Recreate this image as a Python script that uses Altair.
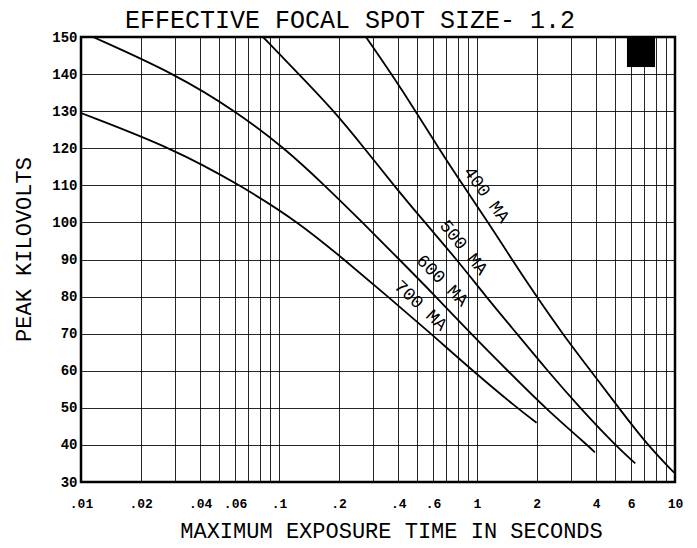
import altair as alt
import pandas as pd

# ---- curve data (exposure time in s, peak kV) ----
t400 = [0.275, 0.37, 0.49, 0.64, 0.85, 1.14, 1.5, 2.0, 2.7, 3.75, 5.2, 7.25, 9.9]
kv400 = [150, 140, 130, 120, 110, 100, 90, 80, 70, 60, 50, 40, 32.5]
t500 = [0.083, 0.126, 0.19, 0.27, 0.38, 0.545, 0.79, 1.11, 1.59, 2.27, 3.31, 4.98, 6.3]
kv500 = [150, 140, 130, 120, 110, 100, 90, 80, 70, 60, 50, 40, 35]
t600 = [0.0115, 0.03, 0.0605, 0.107, 0.17, 0.264, 0.405, 0.62, 0.93, 1.43, 2.2, 3.6, 3.94]
kv600 = [150, 140, 130, 120, 110, 100, 90, 80, 70, 60, 50, 40, 38]
t700 = [0.01, 0.029, 0.064, 0.126, 0.213, 0.355, 0.585, 0.95, 1.59, 2.0]
kv700 = [129.5, 120, 110, 100, 90, 80, 70, 60, 50, 46]

# ---- curve labels ----
label_text = ["400 MA", "500 MA", "600 MA", "700 MA"]
label_t = [1.04, 0.80, 0.628, 0.49]
label_kv = [106.3, 92.0, 82.9, 76.1]

# ---- black marker square ----
square_t = [5.72, 7.93]
square_kv = [141.9, 150]

# ---- axes ----
grid_x = [0.01, 0.02, 0.03, 0.04, 0.05, 0.06, 0.07, 0.08, 0.09,
          0.1, 0.2, 0.3, 0.4, 0.5, 0.6, 0.7, 0.8, 0.9,
          1, 2, 3, 4, 5, 6, 7, 8, 9, 10]
tick_vals = [0.01, 0.02, 0.04, 0.06, 0.1, 0.2, 0.4, 0.6, 1, 2, 4, 6, 10]
tick_text = [".01", ".02", ".04", ".06", ".1", ".2", ".4", ".6", "1", "2", "4", "6", "10"]
y_ticks = [30, 40, 50, 60, 70, 80, 90, 100, 110, 120, 130, 140, 150]

rows = []
for name, ts, ks in [("400", t400, kv400), ("500", t500, kv500),
                     ("600", t600, kv600), ("700", t700, kv700)]:
    for t, k in zip(ts, ks):
        rows.append({"series": name, "t": t, "kv": k})
curves = pd.DataFrame(rows)

expr = "''"
for v, s in reversed(list(zip(tick_vals, tick_text))):
    expr = f"round(datum.value*1000)=={int(round(v*1000))} ? '{s}' : ({expr})"

FONT = "Liberation Mono"
xscale = alt.Scale(type="log", domain=[0.01, 10], nice=False)
yscale = alt.Scale(domain=[30, 150], nice=False, zero=False)

xaxis = alt.Axis(values=grid_x, grid=True, gridColor="black", gridWidth=1, gridOpacity=0.85,
                 ticks=False, tickSize=0, domain=False, labelExpr=expr,
                 labelFont=FONT, labelFontSize=13, labelFontWeight="bold", labelColor="black",
                 labelPadding=25, labelBaseline="alphabetic", labelFlush=False,
                 labelOverlap=False, labelBound=False,
                 title="MAXIMUM EXPOSURE TIME IN SECONDS", titleFont=FONT, titleFontSize=22,
                 titleFontWeight="normal", titleColor="black", titleX=310, titleY=55,
                 titleBaseline="alphabetic", titleAlign="center")
yaxis = alt.Axis(values=y_ticks, grid=True, gridColor="black", gridWidth=1, gridOpacity=0.85,
                 ticks=False, tickSize=0, domain=False,
                 labelFont=FONT, labelFontSize=14, labelFontWeight="bold", labelColor="black",
                 labelPadding=4, labelOverlap=False, labelBound=False, labelFlush=False,
                 title="PEAK KILOVOLTS", titleFont=FONT, titleFontSize=22,
                 titleFontWeight="normal", titleColor="black", titleX=-51, titleY=212,
                 titleAngle=-90, titleBaseline="alphabetic", titleAlign="center")

lines = alt.Chart(curves).mark_line(color="black", strokeWidth=1.8, interpolate="basis").encode(
    x=alt.X("t:Q", scale=xscale, axis=xaxis),
    y=alt.Y("kv:Q", scale=yscale, axis=yaxis),
    detail="series:N",
)

angles = [54, 51, 45, 43]
label_layers = []
for txt, t, k, a in zip(label_text, label_t, label_kv, angles):
    df = pd.DataFrame({"t": [t], "kv": [k], "label": [txt]})
    label_layers.append(
        alt.Chart(df).mark_text(font=FONT, fontSize=18, color="black", angle=a, dy=-7,
                                align="center", baseline="middle").encode(
            x=alt.X("t:Q", scale=xscale, axis=xaxis),
            y=alt.Y("kv:Q", scale=yscale, axis=yaxis),
            text="label:N",
        )
    )

sq = pd.DataFrame({"t1": [square_t[0]], "t2": [square_t[1]],
                   "k1": [square_kv[0]], "k2": [square_kv[1]]})
square = alt.Chart(sq).mark_rect(color="black").encode(
    x=alt.X("t1:Q", scale=xscale, axis=xaxis), x2="t2:Q",
    y=alt.Y("k1:Q", scale=yscale, axis=yaxis), y2="k2:Q",
)

chart = alt.layer(lines, square, *label_layers).properties(
    width=594, height=445,
    autosize=alt.AutoSizeParams(type="none"),
    padding={"left": 73, "top": 29, "right": 14, "bottom": 62},
    title=alt.Title("EFFECTIVE FOCAL SPOT SIZE- 1.2", font=FONT, fontSize=25,
                    fontWeight="normal", color="black", anchor="middle", frame="group",
                    dx=-28, dy=9, offset=6),
    background="white",
).configure_view(stroke="black", strokeWidth=2.5)

chart.save("out.html", embed_options={"renderer": "svg", "actions": False})
